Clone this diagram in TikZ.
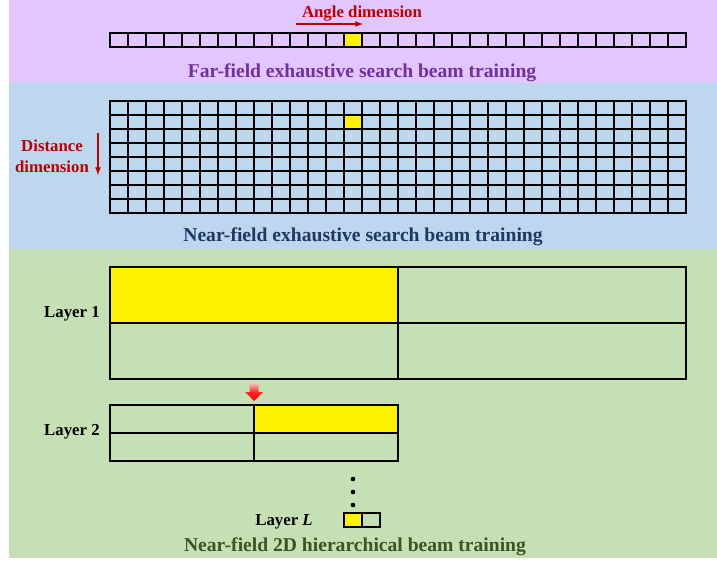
\documentclass[tikz,border=0pt]{standalone}
\usepackage{fontspec}
\setmainfont{Liberation Serif}
\usepackage{xcolor}
\usepackage{tikz}
\definecolor{farbg}{RGB}{226,198,255}
\definecolor{nearbg}{RGB}{189,215,238}
\definecolor{hierbg}{RGB}{197,224,180}
\definecolor{fartxt}{RGB}{112,48,160}
\definecolor{neartxt}{RGB}{31,56,100}
\definecolor{hiertxt}{RGB}{56,87,35}
\definecolor{dimred}{RGB}{192,0,0}
\tikzset{
titletext/.style={font=\fontsize{14.7pt}{17pt}\selectfont\bfseries, inner sep=0pt},
labeltext/.style={font=\fontsize{12.6pt}{15.75pt}\selectfont\bfseries, inner sep=0pt},
gridline/.style={draw=black, line width=0.8pt},
boxline/.style={draw=black, line width=0.9pt},
dotvertex/.style={circle, draw=black, fill=black, inner sep=0pt, minimum size=3pt},
}

\begin{document}
\begin{tikzpicture}[x=0.75pt,y=-0.75pt]
    \useasboundingbox (0,0) rectangle (717,563);
    % bands
    \fill[farbg] (9,0) rectangle (717,83);
    \fill[nearbg] (9,83) rectangle (717,249);
    \fill[hierbg] (9,249) rectangle (717,558);
    % far-field
    \fill[yellow] (344,33) rectangle (362,47);
    \draw[gridline] (110,33) rectangle (686,47);
    \foreach \i in {1,...,31} \draw[gridline] (110+18*\i,33) -- (110+18*\i,47);
    \node[labeltext, text=dimred] at (362,13.5) (angle) {Angle dimension};
    \coordinate (angleS) at (296,24);
    \coordinate (angleE) at (363,24);
    \draw[dimred, line width=1pt, -latex] (angleS) -- (angleE);
    \node[titletext, text=fartxt] at (362,73) (fartitle) {Far-field exhaustive search beam training};
    % near-field
    \fill[yellow] (344,115) rectangle (362,129);
    \draw[gridline] (110,101) rectangle (686,213);
    \foreach \i in {1,...,31} \draw[gridline] (110+18*\i,101) -- (110+18*\i,213);
    \foreach \j in {1,...,7} \draw[gridline] (110,101+14*\j) -- (686,101+14*\j);
    \node[labeltext, text=dimred, align=center] at (52,156) (distance) {Distance\\dimension};
    \coordinate (distS) at (98,133);
    \coordinate (distE) at (98,175);
    \draw[dimred, line width=1pt, -latex] (distS) -- (distE);
    \node[titletext, text=neartxt] at (363,237) (neartitle) {Near-field exhaustive search beam training};
    % hierarchical
    \fill[yellow] (110,267) rectangle (398,323);
    \draw[boxline] (110,267) rectangle (686,379);
    \draw[boxline] (398,267) -- (398,379);
    \draw[boxline] (110,323) -- (686,323);
    \node[labeltext, anchor=east] at (100,314) (layer1) {Layer 1};
    \shade[top color=red!25, bottom color=red, middle color=red!85, draw=none]
      (249.5,383) -- (258.5,383) -- (258.5,392) -- (263,392) -- (254,401) -- (245,392) -- (249.5,392) -- cycle;
    \fill[yellow] (254,405) rectangle (398,433);
    \draw[boxline] (110,405) rectangle (398,461);
    \draw[boxline] (254,405) -- (254,461);
    \draw[boxline] (110,433) -- (398,433);
    \node[labeltext, anchor=east] at (100,431.5) (layer2) {Layer 2};
    \node[dotvertex] at (353,479) (d1) {};
    \node[dotvertex] at (353,492) (d2) {};
    \node[dotvertex] at (353,505) (d3) {};
    \fill[yellow] (344,513) rectangle (362,527);
    \draw[boxline] (344,513) rectangle (380,527);
    \draw[boxline] (362,513) -- (362,527);
    \node[labeltext, anchor=east] at (313,521.5) (layerL) {Layer \textit{L}};
    \node[titletext, text=hiertxt] at (355,547) (hiertitle) {Near-field 2D hierarchical beam training};
\end{tikzpicture}
\end{document}
